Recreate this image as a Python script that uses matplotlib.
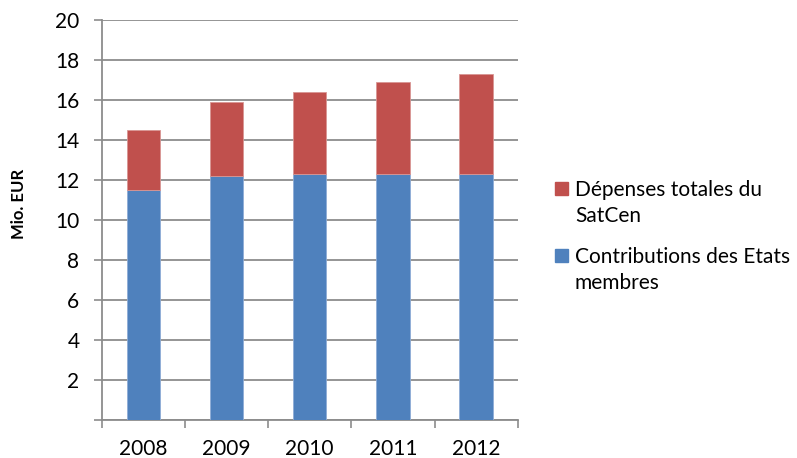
import numpy as np
import matplotlib.pyplot as plt
from matplotlib.patches import Rectangle

plt.rcParams["font.family"] = ["Lato", "DejaVu Sans"]

# Budget data (Mio. EUR)
years = ["2008", "2009", "2010", "2011", "2012"]
contributions = [11.5, 12.2, 12.3, 12.3, 12.3]   # Contributions des Etats membres
totals = [14.5, 15.9, 16.4, 16.9, 17.3]          # Dépenses totales du SatCen

blue = "#4F81BD"
red = "#C0504D"
grid_col = "#8C8C8C"

W, H = 797, 458
extra = [t - c for t, c in zip(totals, contributions)]
x = np.arange(len(years))

fig = plt.figure(figsize=(W / 100, H / 100), dpi=100)
ax = fig.add_axes([0.1276, 0.083, 0.522, 0.8733])

ax.bar(x, contributions, width=0.4, color=blue, edgecolor="#8FADD6",
       linewidth=0.6, zorder=3)
ax.bar(x, extra, width=0.4, bottom=contributions, color=red,
       edgecolor="#D99694", linewidth=0.6, zorder=3)

ax.set_xlim(-0.5, len(years) - 0.5)
ax.set_ylim(0, 20)
ax.set_yticks(np.arange(0, 21, 2))
ax.set_yticklabels([""] + [str(v) for v in range(2, 21, 2)])
ax.yaxis.grid(True, color=grid_col, linewidth=1.3, zorder=0)

# category labels centred, tick marks between categories
ax.set_xticks(x)
ax.set_xticklabels(years)
ax.set_xticks(np.arange(-0.5, len(years), 1), minor=True)
ax.tick_params(axis="x", which="major", length=0, pad=14, labelsize=15)
ax.tick_params(axis="x", which="minor", length=6, width=1.2, color=grid_col)
ax.tick_params(axis="y", length=6, width=1.2, color=grid_col, pad=10, labelsize=15)

for side in ["top", "right"]:
    ax.spines[side].set_visible(False)
for side in ["left", "bottom"]:
    ax.spines[side].set_color(grid_col)
    ax.spines[side].set_linewidth(1.3)

fig.text(19 / W, 1 - 204 / H, "Mio. EUR", rotation=90, ha="center", va="center",
         fontsize=12, fontweight="bold")

# legend, drawn by hand: square marker next to two-line label
legend_items = [
    (red, ["Dépenses totales du", "SatCen"], 196),
    (blue, ["Contributions des Etats", "membres"], 263),
]
for color, lines, base in legend_items:
    fig.patches.append(Rectangle((555 / W, 1 - (base - 1) / H), 12.5 / W, 13 / H,
                                 transform=fig.transFigure, color=color))
    for i, line in enumerate(lines):
        fig.text(575 / W, 1 - (base + i * 26) / H, line, fontsize=15,
                 ha="left", va="baseline")

fig.savefig("out.png", dpi=100)
